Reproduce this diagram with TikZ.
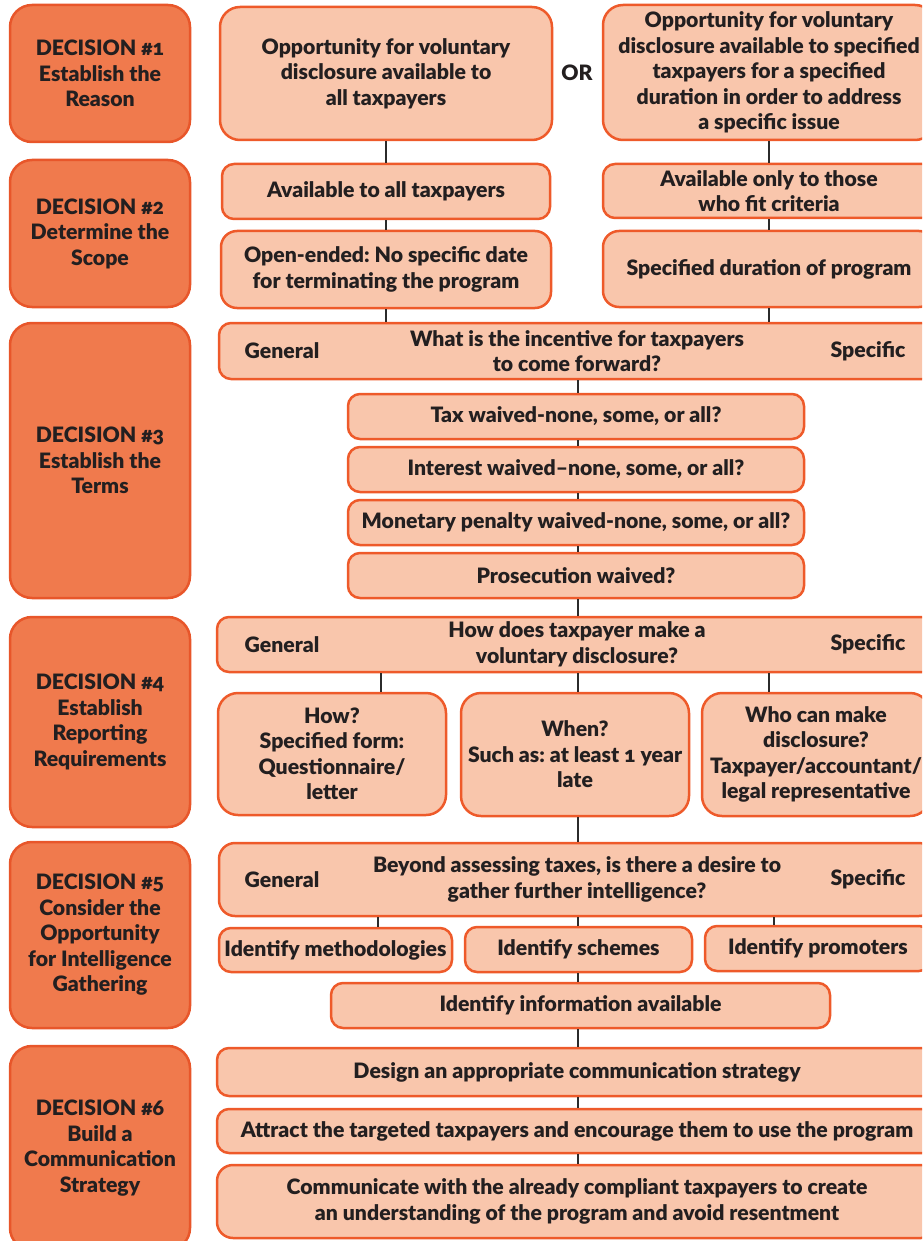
\documentclass[tikz,border=0pt]{standalone}
\usepackage{fontspec}
\setmainfont{Lato}[Numbers=OldStyle, BoldFont={Lato Black}]
\frenchspacing
\definecolor{decfill}{HTML}{F07A4D}
\definecolor{decline}{HTML}{E8562A}
\definecolor{lfill}{HTML}{F9C6AC}
\definecolor{lline}{HTML}{EE5A2A}
\definecolor{txt}{HTML}{231F20}
\definecolor{conn}{HTML}{2B2B2B}
\newcommand{\bxfont}{\fontsize{21.2}{25.5}\selectfont\bfseries\frenchspacing}
\tikzset{
  dec/.style={draw=decline, fill=decfill, line width=2.5pt, rounded corners=22pt, align=center, text=txt, font=\bxfont, inner sep=0pt},
  lbox/.style={draw=lline, fill=lfill, line width=2.5pt, rounded corners=12pt, align=center, text=txt, font=\bxfont, inner sep=0pt},
  bigbox/.style={lbox, rounded corners=20pt},
  side/.style={text=txt, font=\bxfont, inner sep=0pt},
  conline/.style={draw=conn, line width=2pt},
}
\begin{document}
\begin{tikzpicture}[x=1pt,y=-1pt]
\useasboundingbox (0,0) rectangle (922,1241);
\clip (0,0) rectangle (922,1241);
% decision boxes
\node[dec, minimum width=180pt, minimum height=137pt] (d1) at (100,73.5) {DECISION \#1\\Establish the\\Reason};
\node[dec, minimum width=180pt, minimum height=147pt] (d2) at (100,233.5) {DECISION \#2\\Determine the\\Scope};
\node[dec, minimum width=180pt, minimum height=275pt] (d3) at (100,460.5) {DECISION \#3\\Establish the\\Terms};
\node[dec, minimum width=180pt, minimum height=210pt] (d4) at (100,722) {DECISION \#4\\Establish\\Reporting\\Requirements};
\node[dec, minimum width=180pt, minimum height=186pt] (d5) at (100,935) {DECISION \#5\\Consider the\\Opportunity\\for Intelligence\\Gathering};
\node[dec, minimum width=180pt, minimum height=204pt] (d6) at (100,1148) {DECISION \#6\\Build a\\Communication\\Strategy};
% row 1
\node[bigbox, minimum width=332pt, minimum height=133pt] (a1) at (386,73.5) {Opportunity for voluntary\\disclosure available to\\all taxpayers};
\node[side] (or) at (577,73) {OR};
\node[bigbox, minimum width=332pt, minimum height=135pt] (b1) at (769,72.5) {Opportunity for voluntary\\disclosure available to specified\\taxpayers for a specified\\duration in order to address\\a specific issue};
% row 2
\node[lbox, minimum width=328pt, minimum height=55pt] (a2) at (386,191.5) {Available to all taxpayers};
\node[lbox, minimum width=332pt, minimum height=54pt] (b2) at (769,191) {Available only to those\\who fit criteria};
\node[lbox, rounded corners=16pt, minimum width=330pt, minimum height=77pt] (a3) at (386,269.5) {Open-ended: No specific date\\for terminating the program};
\node[lbox, rounded corners=16pt, minimum width=332pt, minimum height=76pt] (b3) at (769,269) {Specified duration of program};
% decision 3
\node[lbox, minimum width=716pt, minimum height=56pt] (h3) at (577,351) {What is the incentive for taxpayers\\to come forward?};
\node[side] (h3g) at (282,351) {General};
\node[side] (h3s) at (868,351) {Specific};
\node[lbox, minimum width=456pt, minimum height=45pt] (t1) at (576,416.5) {Tax waived-none, some, or all?};
\node[lbox, minimum width=456pt, minimum height=45pt] (t2) at (576,469.5) {Interest waived–none, some, or all?};
\node[lbox, minimum width=456pt, minimum height=45pt] (t3) at (576,522.5) {Monetary penalty waived-none, some, or all?};
\node[lbox, minimum width=456pt, minimum height=45pt] (t4) at (576,575.5) {Prosecution waived?};
% decision 4
\node[lbox, minimum width=720pt, minimum height=55pt] (h4) at (577,644.5) {How does taxpayer make a\\voluntary disclosure?};
\node[side] (h4g) at (282,644.5) {General};
\node[side] (h4s) at (868,644.5) {Specific};
\node[bigbox, minimum width=228pt, minimum height=122pt] (s1) at (332,754) {How?\\Specified form:\\Questionnaire/\\letter};
\node[bigbox, minimum width=228pt, minimum height=123pt] (s2) at (575,754.5) {When?\\Such as: at least 1 year\\late};
\node[bigbox, minimum width=228pt, minimum height=123pt] (s3) at (816,754.5) {Who can make\\disclosure?\\Taxpayer/accountant/\\legal representative};
% decision 5
\node[lbox, rounded corners=16pt, minimum width=716pt, minimum height=73pt] (h5) at (577,879.5) {Beyond assessing taxes, is there a desire to\\gather further intelligence?};
\node[side] (h5g) at (282,879.5) {General};
\node[side] (h5s) at (868,879.5) {Specific};
\node[lbox, minimum width=233pt, minimum height=44pt] (i1) at (335.5,950) {Identify methodologies};
\node[lbox, minimum width=227pt, minimum height=45pt] (i2) at (578.5,949.5) {Identify schemes};
\node[lbox, minimum width=226pt, minimum height=45pt] (i3) at (818,948.5) {Identify promoters};
\node[lbox, minimum width=499pt, minimum height=45pt] (i4) at (580.5,1005.5) {Identify information available};
% decision 6
\node[lbox, minimum width=720pt, minimum height=48pt] (c1) at (577,1072) {Design an appropriate communication strategy};
\node[lbox, minimum width=720pt, minimum height=44pt] (c2) at (577,1131) {Attract the targeted taxpayers and encourage them to use the program};
\node[lbox, rounded corners=16pt, minimum width=720pt, minimum height=73pt] (c3) at (577,1201.5) {Communicate with the already compliant taxpayers to create\\an understanding of the program and avoid resentment};
% connector coordinates
\coordinate (x3) at (578,0);
\coordinate (x4a) at (381,0);
\coordinate (x5a) at (378,0);
\coordinate (x5c) at (774,0);
\coordinate (x4c) at (769,0);
% connectors
\draw[conline] (a1.south) -- (a2.north);
\draw[conline] (b1.south) -- (b2.north);
\draw[conline] (a2.south) -- (a3.north);
\draw[conline] (b2.south) -- (b3.north);
\draw[conline] (a3.south) -- (a3.south |- h3.north);
\draw[conline] (b3.south) -- (b3.south |- h3.north);
\draw[conline] (h3.south -| x3) -- (t1.north -| x3);
\draw[conline] (t1.south -| x3) -- (t2.north -| x3);
\draw[conline] (t2.south -| x3) -- (t3.north -| x3);
\draw[conline] (t3.south -| x3) -- (t4.north -| x3);
\draw[conline] (t4.south -| x3) -- (h4.north -| x3);
\draw[conline] (h4.south -| x4a) -- (s1.north -| x4a);
\draw[conline] (h4.south -| x3) -- (s2.north -| x3);
\draw[conline] (h4.south -| x4c) -- (s3.north -| x4c);
\draw[conline] (s2.south -| x3) -- (h5.north -| x3);
\draw[conline] (h5.south -| x5a) -- (i1.north -| x5a);
\draw[conline] (h5.south -| x3) -- (i2.north -| x3);
\draw[conline] (h5.south -| x5c) -- (i3.north -| x5c);
\draw[conline] (i2.south -| x3) -- (i4.north -| x3);
\draw[conline] (i4.south -| x3) -- (c1.north -| x3);
\draw[conline] (c1.south -| x3) -- (c2.north -| x3);
\draw[conline] (c2.south -| x3) -- (c3.north -| x3);
\end{tikzpicture}
\end{document}
